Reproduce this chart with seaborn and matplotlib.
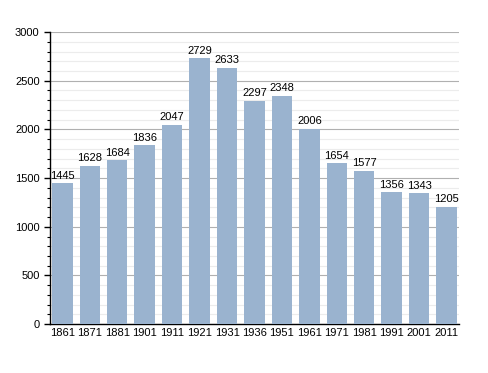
import matplotlib
matplotlib.use('Agg')
import matplotlib.pyplot as plt
import seaborn as sns
import pandas as pd
from matplotlib.ticker import MultipleLocator

# Data
years = ['1861', '1871', '1881', '1901', '1911', '1921', '1931', '1936',
         '1951', '1961', '1971', '1981', '1991', '2001', '2011']
population = [1445, 1628, 1684, 1836, 2047, 2729, 2633, 2297,
              2348, 2006, 1654, 1577, 1356, 1343, 1205]

df = pd.DataFrame({'year': years, 'pop': population})

sns.set_style('white')
plt.rcParams['font.family'] = ['Liberation Sans', 'DejaVu Sans']
plt.rcParams['text.color'] = 'black'
plt.rcParams['xtick.color'] = 'black'
plt.rcParams['ytick.color'] = 'black'

fig = plt.figure(figsize=(4.88, 3.73), dpi=100)
ax = fig.add_axes([0.1025, 0.131, 0.838, 0.783])

sns.barplot(data=df, x='year', y='pop', color='#9ab3cf', saturation=1,
            width=0.745, edgecolor='none', linewidth=0, ax=ax, zorder=3)

ax.set_ylim(0, 3000)
ax.set_xlim(-0.45, len(years) - 0.55)
ax.yaxis.set_major_locator(MultipleLocator(500))
ax.yaxis.set_minor_locator(MultipleLocator(100))
ax.grid(which='major', axis='y', color='#b0b0b0', linewidth=0.8, zorder=0)
ax.grid(which='minor', axis='y', color='#ececec', linewidth=0.8, zorder=0)

for i, v in enumerate(population):
    ax.text(i, v + 25, str(v), ha='center', va='bottom', fontsize=8,
            color='black', zorder=4)

for s in ['top', 'right']:
    ax.spines[s].set_visible(False)
for s in ['left', 'bottom']:
    ax.spines[s].set_color('black')
    ax.spines[s].set_linewidth(1)

ax.tick_params(axis='y', which='major', length=4, width=1, labelsize=8,
               left=True, color='black', labelcolor='black')
ax.tick_params(axis='y', which='minor', length=2, width=0.8, left=True, color='black')
ax.tick_params(axis='x', length=0, labelsize=8, pad=3, labelcolor='black')
ax.set_xlabel('')
ax.set_ylabel('')

fig.savefig('out.png', dpi=100)
